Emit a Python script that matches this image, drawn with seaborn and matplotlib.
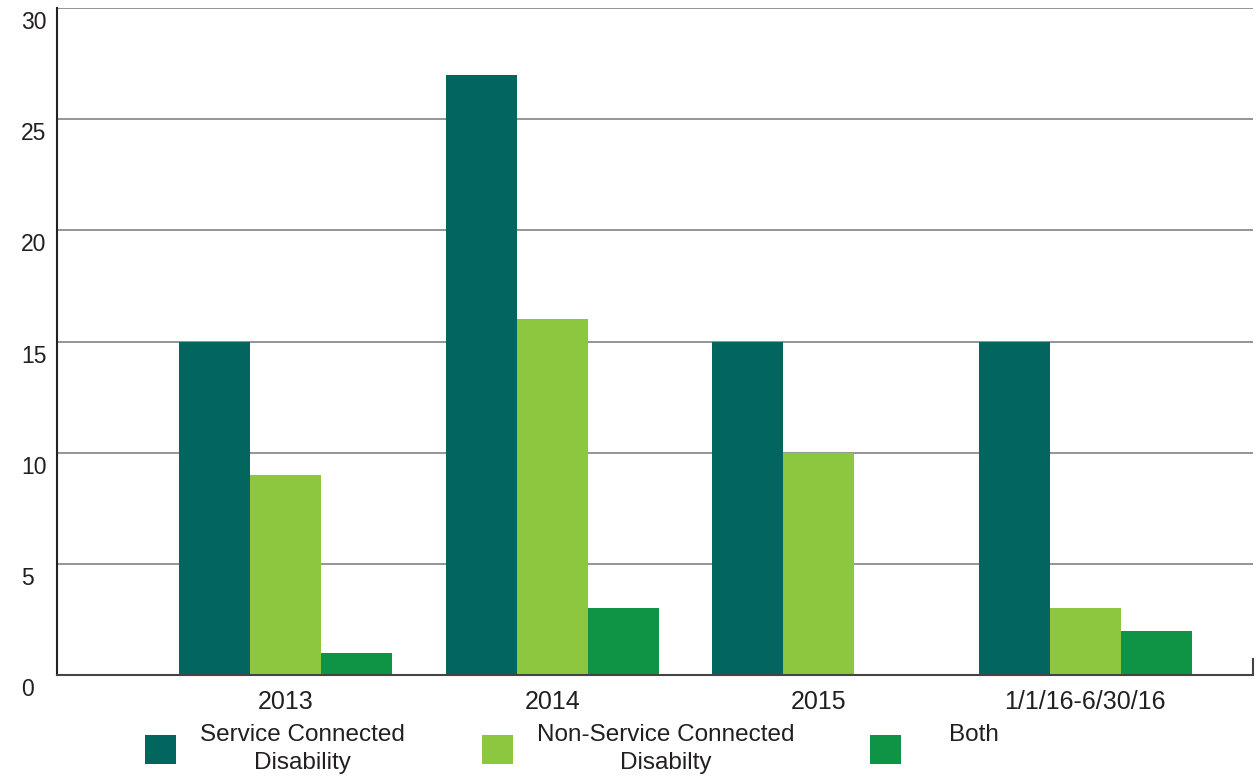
import pandas as pd
import matplotlib
matplotlib.use("Agg")
import matplotlib.pyplot as plt
import matplotlib.transforms as mtransforms
from matplotlib.patches import Patch
import seaborn as sns

# =========================
# Data
# =========================
periods = ["2013", "2014", "2015", "1/1/16-6/30/16"]
series_names = ["Service Connected\nDisability",
                "Non-Service Connected\nDisabilty",
                "Both"]
service_connected = [15, 27, 15, 15]
non_service = [9, 16, 10, 3]
both = [1, 3, 0, 2]
y_ticks = [0, 5, 10, 15, 20, 25, 30]

colors = ["#03665E", "#8DC63F", "#0E9444"]

df = pd.DataFrame({
    "period": periods * 3,
    "series": [series_names[0]] * 4 + [series_names[1]] * 4 + [series_names[2]] * 4,
    "value": service_connected + non_service + both,
})

# =========================
# Plot
# =========================
sns.set_style("white")
plt.rcParams["font.family"] = ["Liberation Sans", "DejaVu Sans"]

fig = plt.figure(figsize=(12.57, 7.8), dpi=100)
ax = fig.add_axes([57 / 1257, 105 / 780, 1196 / 1257, 667 / 780])

sns.barplot(
    data=df, x="period", y="value", hue="series",
    order=periods, hue_order=series_names, palette=colors,
    linewidth=0, saturation=1, ax=ax, legend=False,
)

ax.set_xlim(-0.859, 3.63)
ax.set_ylim(0, 30)
ax.set_yticks(y_ticks)
ax.set_xlabel("")
ax.set_ylabel("")

ax.grid(axis="y", color="#8c8c8c", linewidth=1.3)
ax.set_axisbelow(True)

ax.spines["top"].set_visible(False)
ax.spines["left"].set_color("#222222")
ax.spines["left"].set_linewidth(1.5)
ax.spines["bottom"].set_color("#444444")
ax.spines["bottom"].set_linewidth(1.5)
ax.spines["right"].set_bounds(0, 0.7)
ax.spines["right"].set_color("#444444")
ax.spines["right"].set_linewidth(1.5)

ax.tick_params(axis="x", length=0, pad=11, labelsize=18, labelcolor="#231f20")
ax.tick_params(axis="y", length=0, pad=0, labelsize=16.5, labelcolor="#231f20")

# y labels: left-aligned near the figure edge, a bit below their gridlines
offset = mtransforms.ScaledTranslation(-36 / 100, -12 / 100, fig.dpi_scale_trans)
for lab in ax.get_yticklabels():
    lab.set_horizontalalignment("left")
    lab.set_transform(lab.get_transform() + offset)

# Legend under the chart, one entry at a time to match the spacing
legend_x = [133 / 1257, 470 / 1257, 858 / 1257]
text_pads = [1.0, 1.0, 2.0]
labels = series_names[:2] + ["Both\n "]
for c, lab, x, tp in zip(colors, labels, legend_x, text_pads):
    leg = fig.legend(
        [Patch(facecolor=c, edgecolor="none")], [lab], frameon=False,
        loc="upper left", bbox_to_anchor=(x, 68 / 780),
        fontsize=17.5, handlelength=1.25, handleheight=1.45,
        handletextpad=tp, borderpad=0, labelcolor="#231f20",
    )
    for t in leg.get_texts():
        t.set_multialignment("center")
        t.set_linespacing(1.35)

fig.savefig("out.png", dpi=100)
